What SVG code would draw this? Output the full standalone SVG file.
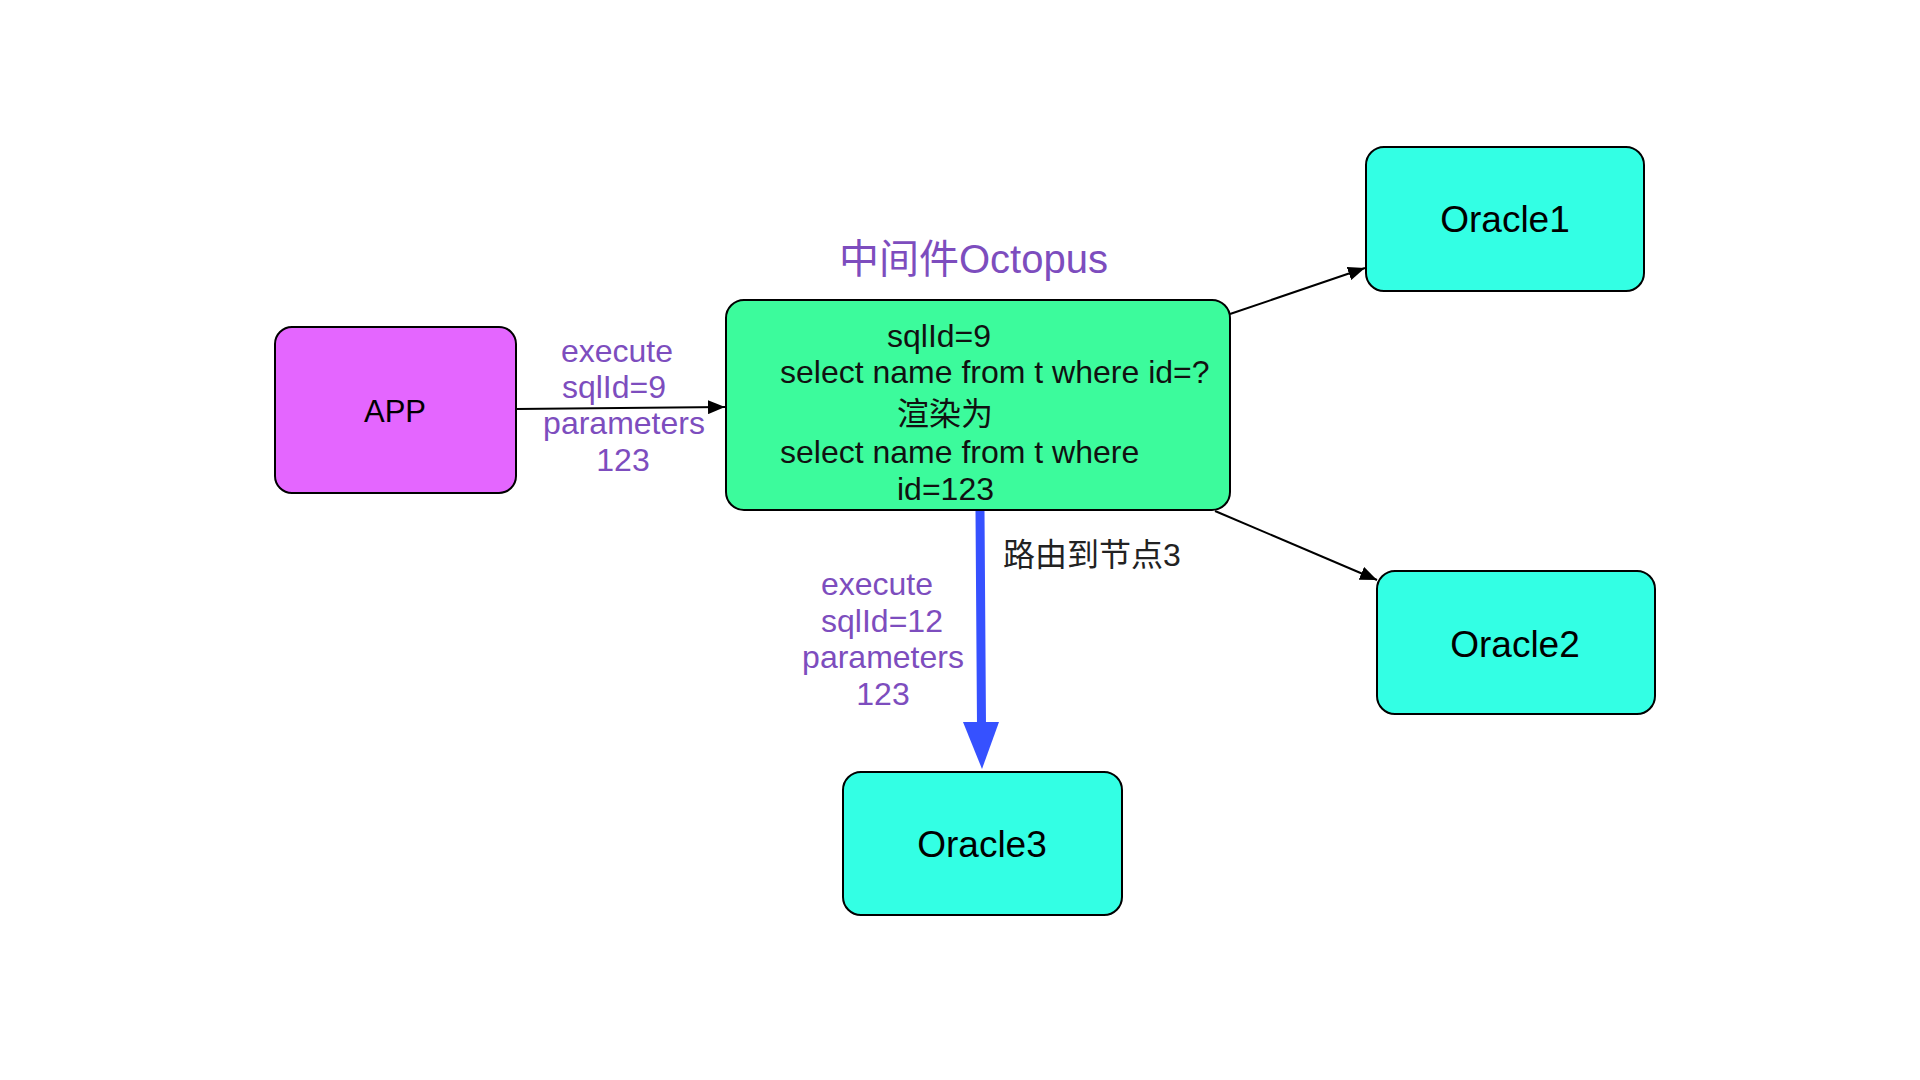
<svg xmlns="http://www.w3.org/2000/svg" width="1920" height="1080" viewBox="0 0 1920 1080">
  <style>
    .box { stroke: #000; stroke-width: 2; }
    .t { font-family: "Liberation Sans", "Noto Sans CJK SC", sans-serif; }
    .lbl { font-family: "Liberation Sans", "Noto Sans CJK SC", sans-serif; font-size: 32px; fill: #7D4DBE; text-anchor: middle; }
    .conn { stroke: #000; stroke-width: 2; fill: none; }
  </style>
  <defs>
    <marker id="arr" markerUnits="userSpaceOnUse" markerWidth="18" markerHeight="14" refX="17" refY="7" orient="auto">
      <path d="M0,0 L17,7 L0,14 Z" fill="#000"/>
    </marker>
  </defs>
  <rect width="1920" height="1080" fill="#fff"/>

  <g id="connectors">
    <line class="conn" x1="516" y1="409" x2="725" y2="407" marker-end="url(#arr)"/>
    <line class="conn" x1="1230" y1="314" x2="1365" y2="268" marker-end="url(#arr)"/>
    <line class="conn" x1="1215" y1="511" x2="1377" y2="580" marker-end="url(#arr)"/>
    <line x1="980" y1="511" x2="981.5" y2="726" stroke="#3651FF" stroke-width="9" stroke-linecap="round"/>
    <polygon points="963,722 999,722 982,769" fill="#3651FF"/>
  </g>

  <g id="app">
    <rect class="box" x="275" y="327" width="241" height="166" rx="17" fill="#E466FF"/>
    <text class="t" x="395" y="422" font-size="31" text-anchor="middle" fill="#000">APP</text>
  </g>

  <g id="label-app-octopus">
    <text class="lbl" x="617" y="362">execute</text>
    <text class="lbl" x="614" y="398">sqlId=9</text>
    <text class="lbl" x="624" y="434">parameters</text>
    <text class="lbl" x="623" y="471">123</text>
  </g>

  <g id="octopus">
    <text class="t" x="839" y="273" font-size="40" fill="#7D4DBE">中间件Octopus</text>
    <rect class="box" x="726" y="300" width="504" height="210" rx="18" fill="#3CFB9C"/>
    <g class="t" font-size="32" fill="#111">
      <text x="887" y="347">sqlId=9</text>
      <text x="780" y="383">select name from t where id=?</text>
      <text x="897" y="425">渲染为</text>
      <text x="780" y="463">select name from t where</text>
      <text x="897" y="500">id=123</text>
    </g>
  </g>

  <g id="oracle1">
    <rect class="box" x="1366" y="147" width="278" height="144" rx="18" fill="#33FFE4"/>
    <text class="t" x="1505" y="232" font-size="37" text-anchor="middle" fill="#000">Oracle1</text>
  </g>

  <g id="oracle2">
    <rect class="box" x="1377" y="571" width="278" height="143" rx="18" fill="#33FFE4"/>
    <text class="t" x="1515" y="657" font-size="37" text-anchor="middle" fill="#000">Oracle2</text>
  </g>

  <g id="oracle3">
    <rect class="box" x="843" y="772" width="279" height="143" rx="18" fill="#33FFE4"/>
    <text class="t" x="982" y="857" font-size="37" text-anchor="middle" fill="#000">Oracle3</text>
  </g>

  <g id="label-route">
    <text class="t" x="1003" y="566" font-size="32" fill="#222">路由到节点3</text>
  </g>

  <g id="label-octopus-oracle3">
    <text class="lbl" x="877" y="595">execute</text>
    <text class="lbl" x="882" y="632">sqlId=12</text>
    <text class="lbl" x="883" y="668">parameters</text>
    <text class="lbl" x="883" y="705">123</text>
  </g>
</svg>
